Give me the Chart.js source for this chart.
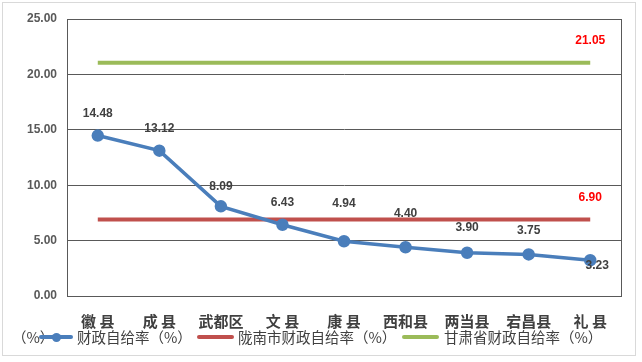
<!DOCTYPE html>
<html>
<head>
<meta charset="utf-8">
<script src="https://cdn.jsdelivr.net/npm/chart.js@4/dist/chart.umd.min.js"></script>
<style>
    body { margin: 0; background: #fff; }
    #wrap { position: relative; width: 642px; height: 362px; }
    #frame { position: absolute; left: 2px; top: 2px; width: 634px; height: 354px; border: 1px solid #d9d9d9; box-sizing: border-box; }
    .lg { position: absolute; top: 327px; line-height: 20px; font-family: "Noto Sans CJK SC", sans-serif; font-size: 14.5px; color: #404040; white-space: nowrap; }
    .sw { position: absolute; top: 335px; height: 4px; border-radius: 2px; }
    .dot { position: absolute; left: 50%; top: 50%; width: 9px; height: 9px; margin: -4.5px 0 0 -4.5px; border-radius: 50%; background: #4a7ebb; }
</style>
</head>
<body>
<div id="wrap">
    <div id="frame"></div>
    <canvas id="chart" width="642" height="362"></canvas>
    <span class="lg" style="left:12px">（%）</span>
    <span class="sw" style="left:39px;width:34px;background:#4a7ebb"><span class="dot"></span></span>
    <span class="lg" style="left:77px">财政自给率（%）</span>
    <span class="sw" style="left:197px;width:37px;background:#c0504d"></span>
    <span class="lg" style="left:238px">陇南市财政自给率（%）</span>
    <span class="sw" style="left:402px;width:37px;background:#9bbb59"></span>
    <span class="lg" style="left:444px">甘肃省财政自给率（%）</span>
</div>
<script>
    // Data
    const counties = ['徽 县', '成 县', '武都区', '文 县', '康 县', '西和县', '两当县', '宕昌县', '礼 县'];
    const countyRate = [14.48, 13.12, 8.09, 6.43, 4.94, 4.40, 3.90, 3.75, 3.23];
    const longnanRate = [6.90, 6.90, 6.90, 6.90, 6.90, 6.90, 6.90, 6.90, 6.90];
    const gansuRate = [21.05, 21.05, 21.05, 21.05, 21.05, 21.05, 21.05, 21.05, 21.05];
    const yTicks = [0, 5, 10, 15, 20, 25];

    // label offsets (px above the point) for the county series
    const labelLift = [22, 22, 20, 22, 38, 34, 25, 24, -5];
    const labelShift = [0, 0, 0, 0, 0, 0, 0, 0, 7];

    const labelPlugin = {
        id: 'valueLabels',
        afterDatasetsDraw(chart) {
            const ctx = chart.ctx;
            ctx.save();
            ctx.font = 'bold 12px "Liberation Sans", Arial, sans-serif';
            ctx.textAlign = 'center';
            ctx.textBaseline = 'middle';
            // county labels
            chart.getDatasetMeta(0).data.forEach((pt, i) => {
                ctx.fillStyle = '#404040';
                ctx.fillText(countyRate[i].toFixed(2), pt.x + labelShift[i], pt.y - labelLift[i]);
            });
            // last value of the two reference lines
            [1, 2].forEach(d => {
                const pts = chart.getDatasetMeta(d).data;
                const last = pts[pts.length - 1];
                const v = chart.data.datasets[d].data[pts.length - 1];
                ctx.fillStyle = '#ff0000';
                ctx.fillText(v.toFixed(2), last.x, last.y - 22);
            });
            ctx.restore();
        }
    };

    const boxPlugin = {
        id: 'plotBox',
        beforeDatasetsDraw(chart) {
            const a = chart.chartArea;
            const ctx = chart.ctx;
            ctx.save();
            ctx.strokeStyle = '#595959';
            ctx.lineWidth = 1;
            ctx.strokeRect(Math.round(a.left) + 0.5, Math.round(a.top) + 0.5, Math.round(a.right - a.left), Math.round(a.bottom - a.top));
            ctx.restore();
        }
    };

    new Chart(document.getElementById('chart'), {
        type: 'line',
        data: {
            labels: counties,
            datasets: [{
                label: '财政自给率（%）',
                data: countyRate,
                borderColor: '#4a7ebb',
                backgroundColor: '#4a7ebb',
                borderWidth: 3.5,
                pointRadius: 4.5,
                pointHoverRadius: 4.5,
                tension: 0
            }, {
                label: '陇南市财政自给率（%）',
                data: longnanRate,
                borderColor: '#c0504d',
                borderWidth: 4,
                pointRadius: 0
            }, {
                label: '甘肃省财政自给率（%）',
                data: gansuRate,
                borderColor: '#9bbb59',
                borderWidth: 4,
                pointRadius: 0
            }]
        },
        options: {
            responsive: false,
            animation: false,
            layout: { padding: { left: 0, right: 21, top: 19, bottom: 0 } },
            plugins: {
                legend: { display: false },
                tooltip: { enabled: false }
            },
            scales: {
                x: {
                    offset: true,
                    grid: { display: false },
                    border: { color: '#595959' },
                    ticks: {
                        color: '#404040',
                        padding: 8,
                        maxRotation: 0,
                        font: { family: '"Noto Sans CJK SC", sans-serif', size: 15, weight: 'bold' }
                    },
                    afterFit(s) { s.height = 66; }
                },
                y: {
                    min: 0,
                    max: 25,
                    afterBuildTicks(s) { s.ticks = yTicks.map(v => ({ value: v })); },
                    grid: { color: '#595959', drawTicks: false },
                    border: { color: '#595959' },
                    ticks: {
                        color: '#595959',
                        padding: 10,
                        font: { family: '"Liberation Sans", Arial, sans-serif', size: 12, weight: 'bold' },
                        callback: v => v.toFixed(2)
                    },
                    afterFit(s) { s.width = 67; }
                }
            }
        },
        plugins: [boxPlugin, labelPlugin]
    });
</script>
</body>
</html>
